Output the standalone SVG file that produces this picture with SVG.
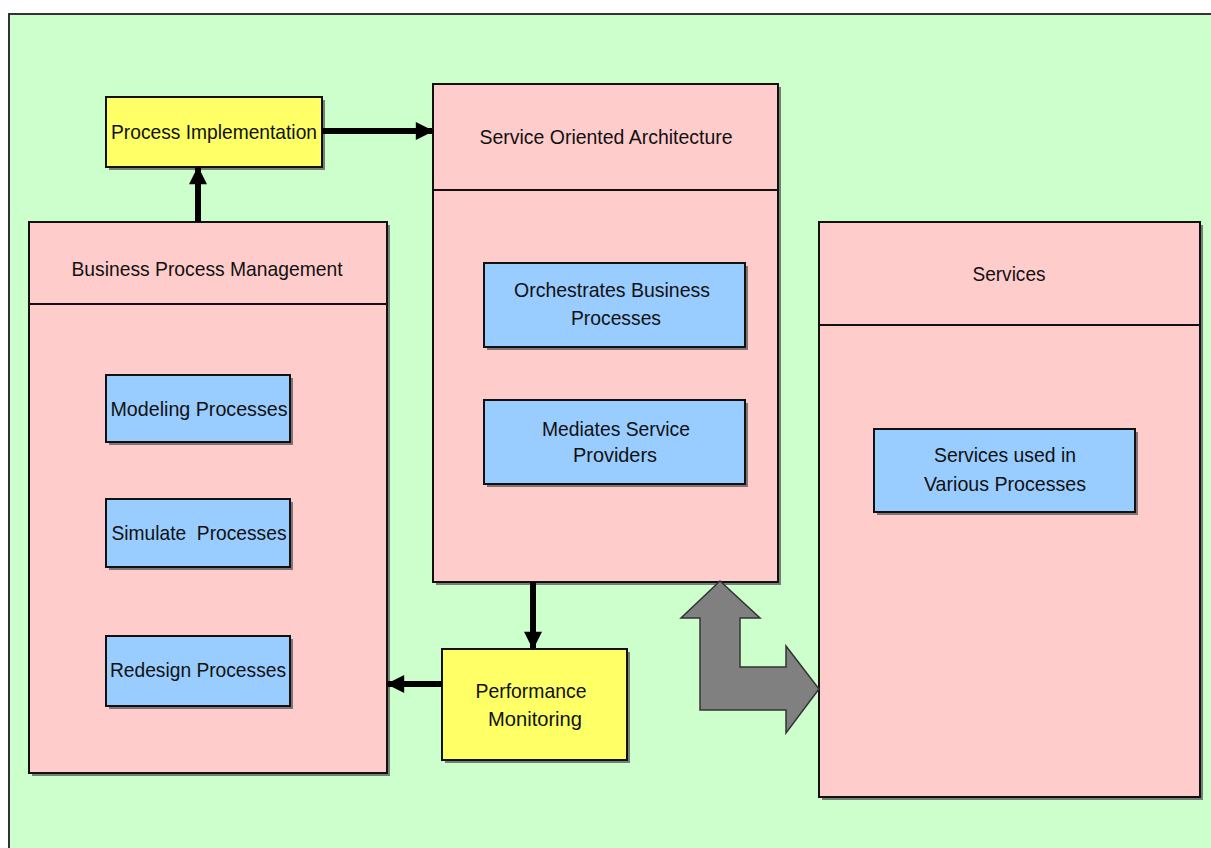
<svg xmlns="http://www.w3.org/2000/svg" width="1211" height="848" viewBox="0 0 1211 848">
<style>
.pink{fill:#FFCCCC;stroke:#111;stroke-width:2}
.blue{fill:#99CCFF;stroke:#111;stroke-width:2}
.yel{fill:#FFFF66;stroke:#111;stroke-width:2}
.sh{fill:#555;opacity:0.75}
.div{stroke:#111;stroke-width:2}
text{font-family:"Liberation Sans",Arial,sans-serif;font-size:21px;fill:#111;text-anchor:middle}
.conn{stroke:#000;stroke-width:6;fill:none}
</style>
<defs>
<marker id="ah" viewBox="0 0 10 10" refX="9" refY="5" markerWidth="4.5" markerHeight="3" orient="auto" markerUnits="strokeWidth">
<path d="M0,0 L10,5 L0,10 z" fill="#000"/>
</marker>
</defs>
<rect x="0" y="0" width="1211" height="848" fill="#fff"/>
<rect x="9" y="14" width="1220" height="850" fill="#CCFFCC" stroke="#333" stroke-width="2"/>

<g id="process-implementation">
<rect class="sh" x="109" y="100" width="216" height="70"/>
<rect class="yel" x="106" y="97" width="216" height="70"/>
<text x="214" y="139" textLength="206" lengthAdjust="spacingAndGlyphs">Process Implementation</text>
</g>

<g id="bpm">
<rect class="sh" x="32" y="225" width="358" height="551"/>
<rect class="pink" x="29" y="222" width="358" height="551"/>
<line class="div" x1="29" y1="304" x2="387" y2="304"/>
<text x="207" y="276" textLength="271" lengthAdjust="spacingAndGlyphs">Business Process Management</text>
</g>

<g id="modeling">
<rect class="sh" x="109" y="378" width="184" height="67"/>
<rect class="blue" x="106" y="375" width="184" height="67"/>
<text x="199" y="416" textLength="177" lengthAdjust="spacingAndGlyphs">Modeling Processes</text>
</g>
<g id="simulate">
<rect class="sh" x="109" y="502" width="184" height="68"/>
<rect class="blue" x="106" y="499" width="184" height="68"/>
<text x="199" y="540" textLength="175" lengthAdjust="spacingAndGlyphs" xml:space="preserve">Simulate  Processes</text>
</g>
<g id="redesign">
<rect class="sh" x="109" y="639" width="184" height="70"/>
<rect class="blue" x="106" y="636" width="184" height="70"/>
<text x="198" y="677" textLength="176" lengthAdjust="spacingAndGlyphs">Redesign Processes</text>
</g>

<g id="soa">
<rect class="sh" x="436" y="87" width="345" height="498"/>
<rect class="pink" x="433" y="84" width="345" height="498"/>
<line class="div" x1="433" y1="190" x2="778" y2="190"/>
<text x="606" y="144" textLength="253" lengthAdjust="spacingAndGlyphs">Service Oriented Architecture</text>
</g>
<g id="orchestrates">
<rect class="sh" x="487" y="266" width="261" height="84"/>
<rect class="blue" x="484" y="263" width="261" height="84"/>
<text x="612" y="297" textLength="196" lengthAdjust="spacingAndGlyphs">Orchestrates Business</text>
<text x="616" y="325" textLength="90" lengthAdjust="spacingAndGlyphs">Processes</text>
</g>
<g id="mediates">
<rect class="sh" x="487" y="403" width="261" height="84"/>
<rect class="blue" x="484" y="400" width="261" height="84"/>
<text x="616" y="436" textLength="148" lengthAdjust="spacingAndGlyphs">Mediates Service</text>
<text x="615" y="462" textLength="84" lengthAdjust="spacingAndGlyphs">Providers</text>
</g>

<g id="services">
<rect class="sh" x="822" y="225" width="381" height="575"/>
<rect class="pink" x="819" y="222" width="381" height="575"/>
<line class="div" x1="819" y1="325" x2="1200" y2="325"/>
<text x="1009" y="281" textLength="73" lengthAdjust="spacingAndGlyphs">Services</text>
</g>
<g id="services-used">
<rect class="sh" x="877" y="432" width="261" height="83"/>
<rect class="blue" x="874" y="429" width="261" height="83"/>
<text x="1005" y="462" textLength="142" lengthAdjust="spacingAndGlyphs">Services used in</text>
<text x="1005" y="491" textLength="162" lengthAdjust="spacingAndGlyphs">Various Processes</text>
</g>

<g id="performance-monitoring">
<rect class="sh" x="445" y="652" width="185" height="111"/>
<rect class="yel" x="442" y="649" width="185" height="111"/>
<text x="531" y="698" textLength="111" lengthAdjust="spacingAndGlyphs">Performance</text>
<text x="535" y="726" textLength="94" lengthAdjust="spacingAndGlyphs">Monitoring</text>
</g>

<g id="connectors">
<line class="conn" x1="322" y1="131" x2="432" y2="131" marker-end="url(#ah)"/>
<line class="conn" x1="198" y1="222" x2="198" y2="168" marker-end="url(#ah)"/>
<line class="conn" x1="533" y1="582" x2="533" y2="648" marker-end="url(#ah)"/>
<line class="conn" x1="442" y1="684" x2="388" y2="684" marker-end="url(#ah)"/>
<path d="M720,581 L760,618 L740,618 L740,667 L786,667 L786,646 L819,689 L786,733 L786,710 L700,710 L700,618 L681,618 Z" fill="#808080" stroke="#333" stroke-width="1.5" stroke-linejoin="miter"/>
</g>
</svg>
